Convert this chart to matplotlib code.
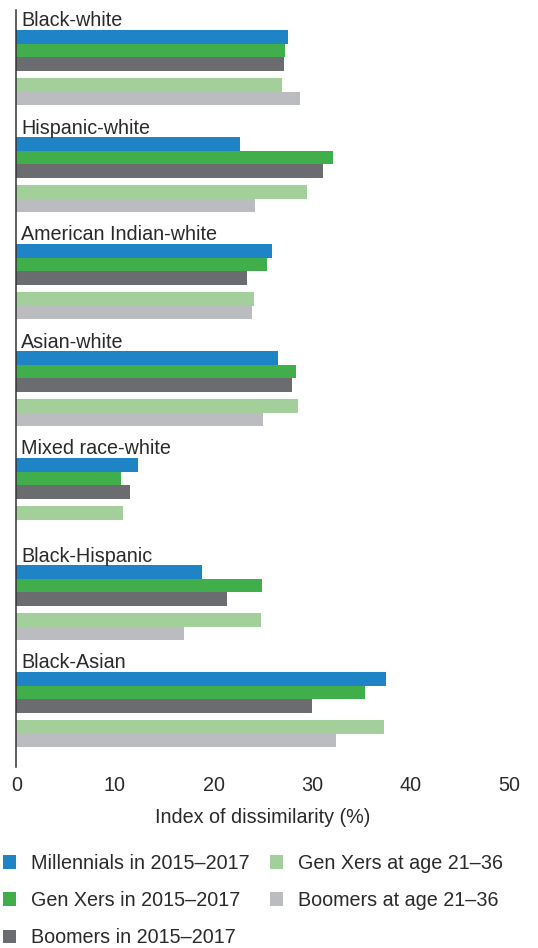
import numpy as np
import matplotlib
matplotlib.use('Agg')
import matplotlib.pyplot as plt
from matplotlib.patches import Patch

plt.rcParams['font.family'] = ['Liberation Sans', 'DejaVu Sans']

# Data (index of dissimilarity, %)
pairs = ['Black-white', 'Hispanic-white', 'American Indian-white', 'Asian-white',
         'Mixed race-white', 'Black-Hispanic', 'Black-Asian']
millennials_now = [27.5, 22.7, 25.9, 26.5, 12.3, 18.8, 37.5]
genx_now = [27.2, 32.1, 25.4, 28.4, 10.6, 24.9, 35.4]
boomers_now = [27.1, 31.1, 23.4, 27.9, 11.5, 21.4, 30.0]
genx_young = [26.9, 29.5, 24.1, 28.6, 10.8, 24.8, 37.3]
boomers_young = [28.8, 24.2, 23.9, 25.0, np.nan, 17.0, 32.4]

series_labels = ['Millennials in 2015\u20132017', 'Gen Xers in 2015\u20132017',
                 'Boomers in 2015\u20132017', 'Gen Xers at age 21\u201336',
                 'Boomers at age 21\u201336']
colors = ['#1f84c6', '#40ae4a', '#6b6c70', '#a3cf9a', '#bbbcc0']
text_col = '#2a2a2a'
fs = 14.2

series = [millennials_now, genx_now, boomers_now, genx_young, boomers_young]

# layout (y units ~ pixels, inverted)
bar_h = 13.5
group_step = 107.0
first_top = 20.0
offsets = [0, 13.5, 27, 48, 61.5]

fig = plt.figure(figsize=(5.38, 9.48), dpi=100)
ax = fig.add_axes([16.3 / 538, 1 - 767 / 948, (509.5 - 16.3) / 538, 757 / 948])

for g, name in enumerate(pairs):
    top = first_top + g * group_step
    for s, vals in enumerate(series):
        v = vals[g]
        if np.isnan(v):
            continue
        ax.barh(top + offsets[s] + bar_h / 2, v, height=bar_h, color=colors[s],
                linewidth=0)
    ax.text(0.5, top - 3.5, name, fontsize=fs, color=text_col, va='baseline', ha='left')

ax.set_xlim(0, 50)
ax.set_ylim(757, 0)
ax.set_xticks([0, 10, 20, 30, 40, 50])
ax.set_yticks([])
ax.tick_params(axis='x', length=0, pad=6.5, labelsize=fs, labelcolor=text_col)
for sp in ['top', 'right', 'bottom']:
    ax.spines[sp].set_visible(False)
ax.spines['left'].set_color('#333333')
ax.spines['left'].set_linewidth(1.1)
ax.set_xlabel('Index of dissimilarity (%)', fontsize=fs, color=text_col, labelpad=9)

handles = [Patch(facecolor=c, edgecolor='none') for c in colors]
leg = fig.legend(handles, series_labels, loc='upper left', bbox_to_anchor=(2.5 / 538, 1 - 854 / 948),
                 ncol=2, frameon=False, fontsize=fs, handlelength=0.68, handleheight=0.68,
                 handletextpad=0.75, labelspacing=0.92, columnspacing=1.05,
                 borderpad=0, borderaxespad=0)
for t in leg.get_texts():
    t.set_color(text_col)

fig.savefig('out.png', dpi=100)
